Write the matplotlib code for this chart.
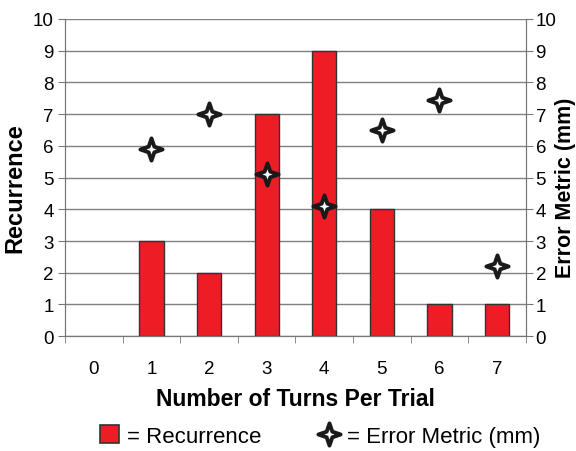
import numpy as np
import matplotlib.pyplot as plt
from matplotlib.path import Path
from matplotlib.lines import Line2D
from matplotlib.patches import Patch

plt.rcParams['font.family'] = ['Liberation Sans', 'DejaVu Sans']

turns = [0, 1, 2, 3, 4, 5, 6, 7]
recurrence = [0, 3, 2, 7, 9, 4, 1, 1]
err_turns = [1, 2, 3, 4, 5, 6, 7]
error_mm = [5.9, 7.0, 5.1, 4.1, 6.5, 7.45, 2.2]

# concave four point star marker
ang = np.arange(8) * np.pi / 4 + np.pi / 2
rad = np.where(np.arange(8) % 2 == 0, 1.0, 0.36)
verts = np.column_stack([rad * np.cos(ang), rad * np.sin(ang)])
verts = np.vstack([verts, verts[:1]])
codes = [Path.MOVETO] + [Path.LINETO] * 7 + [Path.CLOSEPOLY]
star = Path(verts, codes)

fig = plt.figure(figsize=(5.76, 4.52), dpi=100)
ax = fig.add_axes([0.113, 0.254, 0.8, 0.702])
ax2 = ax.twinx()

lws = [1 if v > 0 else 0 for v in recurrence]
ax.bar(turns, recurrence, width=0.42, color='#ee1c25', edgecolor='#333333',
       linewidth=lws, zorder=2)
ax.set_xlim(-0.5, 7.5)
ax.set_ylim(0, 10)
ax.set_yticks(range(0, 11))
ax.set_xticks(turns)
ax.set_xticks(np.arange(-0.5, 8, 1), minor=True)
ax.tick_params(axis='x', which='major', length=0, pad=17, labelsize=13.5)
ax.tick_params(axis='x', which='minor', length=5, color='#777777')
ax.tick_params(axis='y', length=5, color='#777777', labelsize=13.5, pad=3)
ax.grid(axis='y', color='#808080', linewidth=1, zorder=0)
ax.set_axisbelow(True)
ax.spines['top'].set_visible(False)
for s in ['left', 'bottom', 'right']:
    ax.spines[s].set_color('#777777')
ax.set_xlabel('Number of Turns Per Trial', fontsize=16.5, fontweight='bold')
ax.xaxis.set_label_coords(0.5, -0.16)
ax.set_ylabel('Recurrence', fontsize=17, fontweight='bold')
ax.yaxis.set_label_coords(-0.083, 0.47)

ax2.plot(err_turns, error_mm, linestyle='none', marker=star, markersize=16,
         markerfacecolor='white', markeredgecolor='#1a1a1a',
         markeredgewidth=2.8, zorder=5)
ax2.set_ylim(0, 10)
ax2.set_yticks(range(0, 11))
ax2.tick_params(axis='y', length=5, color='#777777', labelsize=13.5, pad=2)
ax2.spines['top'].set_visible(False)
for s in ['left', 'bottom', 'right']:
    ax2.spines[s].set_color('#777777')
ax2.set_ylabel('Error Metric (mm)', fontsize=15.5, fontweight='bold')
ax2.yaxis.set_label_coords(1.063, 0.47)

handles = [Patch(facecolor='#ee1c25', edgecolor='#333333', linewidth=1.2),
           Line2D([], [], linestyle='none', marker=star, markersize=16,
                  markerfacecolor='white', markeredgecolor='#1a1a1a',
                  markeredgewidth=2.8)]
fig.legend(handles, ['= Recurrence', '= Error Metric (mm)'], ncol=2,
           loc='center', bbox_to_anchor=(0.556, 0.033), frameon=False,
           fontsize=16, columnspacing=2.6, handlelength=0.85,
           handleheight=0.85, handletextpad=0.4)

fig.savefig('out.png', dpi=100)
